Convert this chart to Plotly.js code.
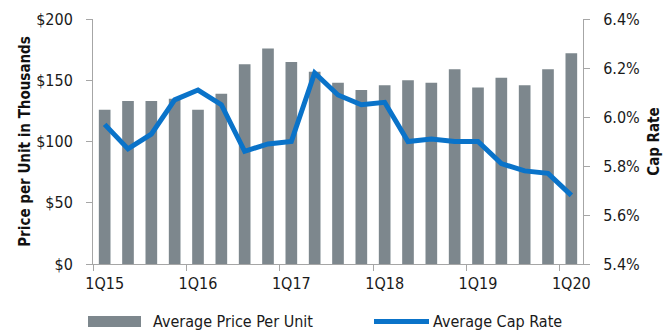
<!DOCTYPE html>
<html>
<head>
<meta charset="utf-8">
<script src="https://cdn.plot.ly/plotly-3.0.1.min.js"></script>
<style>html,body{margin:0;padding:0;background:#fff;}#chart{width:670px;height:331px;}</style>
</head>
<body>
<div id="chart"></div>
<script>
const quarters = ['1Q15','2Q15','3Q15','4Q15','1Q16','2Q16','3Q16','4Q16','1Q17','2Q17','3Q17','4Q17','1Q18','2Q18','3Q18','4Q18','1Q19','2Q19','3Q19','4Q19','1Q20'];
const pricePerUnit = [126, 133, 133, 135, 126, 139, 163, 176, 165, 157, 148, 142, 146, 150, 148, 159, 144, 152, 146, 159, 172];
const capRate = [5.97, 5.87, 5.93, 6.07, 6.11, 6.05, 5.86, 5.89, 5.90, 6.18, 6.09, 6.05, 6.06, 5.90, 5.91, 5.90, 5.90, 5.81, 5.78, 5.77, 5.68];
const tickQuarters = ['1Q15','1Q16','1Q17','1Q18','1Q19','1Q20'];
const tickLabels = ['1Q15','1Q16','1Q17','1Q18','1Q19','1Q20'];
const priceTicks = [0, 50, 100, 150, 200];
const priceTickLabels = ['$0', '$50', '$100', '$150', '$200'];
const rateTicks = [5.4, 5.6, 5.8, 6.0, 6.2, 6.4];
const rateTickLabels = ['5.4%', '5.6%', '5.8%', '6.0%', '6.2%', '6.4%'];
const legendNames = ['Average Price Per Unit', 'Average Cap Rate'];

const FONT = '"Liberation Sans Narrow", "Arial Narrow", "DejaVu Sans Condensed", sans-serif';
const BAR = '#7d878d';
const LINE = '#0a73c9';
const AXIS = '#a6a6a6';

const idx = quarters.map((q, i) => i);
const tickIdx = tickQuarters.map(q => quarters.indexOf(q));
const boundaryIdx = tickIdx.map(i => i - 0.5);

const traces = [
  {type: 'bar', x: idx, y: pricePerUnit, name: legendNames[0], marker: {color: BAR}, xaxis: 'x', yaxis: 'y', showlegend: false, hoverinfo: 'skip'},
  {type: 'scatter', mode: 'lines', x: idx, y: capRate, name: legendNames[1], line: {color: LINE, width: 5}, xaxis: 'x2', yaxis: 'y2', showlegend: false, hoverinfo: 'skip'}
];

const L = 93, R = 583, T = 19, B = 264;
const px2x = p => (p - L) / (R - L);
const px2y = p => (B - p) / (B - T);

const layout = {
  width: 670, height: 331,
  margin: {l: L, r: 670 - R, t: T, b: 331 - B},
  paper_bgcolor: '#fff', plot_bgcolor: '#fff',
  bargap: 0.5,
  font: {family: FONT, color: '#1a1a1a'},
  showlegend: false,
  xaxis: {
    range: [-0.5, quarters.length - 0.5], fixedrange: true,
    tickmode: 'array', tickvals: tickIdx, ticktext: tickLabels,
    ticks: '', showgrid: false, zeroline: false,
    showline: true, linecolor: AXIS, linewidth: 1,
    tickfont: {size: 16, family: FONT, color: '#1a1a1a'}, ticklabelstandoff: 5
  },
  xaxis2: {
    overlaying: 'x', anchor: 'y', side: 'bottom',
    range: [-0.5, quarters.length - 0.5],
    tickmode: 'array', tickvals: boundaryIdx, ticks: 'outside', ticklen: 6, tickcolor: AXIS,
    showticklabels: false, showgrid: false, zeroline: false, showline: false
  },
  yaxis: {
    range: [0, 200], tickmode: 'array', tickvals: priceTicks, ticktext: priceTickLabels,
    ticks: 'outside', ticklen: 6, tickcolor: AXIS,
    showgrid: false, zeroline: false, showline: true, linecolor: AXIS, linewidth: 1,
    tickfont: {size: 16, family: FONT, color: '#1a1a1a'}, ticklabelstandoff: 10,
    title: {text: 'Price per Unit in Thousands', font: {size: 15, family: FONT, weight: 'bold', color: '#111'}, standoff: 1}
  },
  yaxis2: {
    overlaying: 'y', side: 'right', anchor: 'x2',
    range: [5.4, 6.4], tickmode: 'array', tickvals: rateTicks, ticktext: rateTickLabels,
    ticks: 'outside', ticklen: 6, tickcolor: AXIS,
    showgrid: false, zeroline: false, showline: true, linecolor: AXIS, linewidth: 1,
    tickfont: {size: 16, family: FONT, color: '#1a1a1a'}, ticklabelstandoff: 10,
    title: {text: 'Cap Rate', font: {size: 15, family: FONT, weight: 'bold', color: '#111'}, standoff: 9}
  },
  shapes: [
    {type: 'rect', xref: 'paper', yref: 'paper', x0: px2x(88), x1: px2x(141), y0: px2y(327), y1: px2y(316), fillcolor: BAR, line: {width: 0}},
    {type: 'line', xref: 'paper', yref: 'paper', x0: px2x(374), x1: px2x(429), y0: px2y(321.5), y1: px2y(321.5), line: {color: LINE, width: 5}}
  ],
  annotations: [
    {xref: 'paper', yref: 'paper', x: px2x(151), y: px2y(321.5), xanchor: 'left', yanchor: 'middle', text: legendNames[0], showarrow: false, font: {size: 16, family: FONT, color: '#1a1a1a'}},
    {xref: 'paper', yref: 'paper', x: px2x(431), y: px2y(321.5), xanchor: 'left', yanchor: 'middle', text: legendNames[1], showarrow: false, font: {size: 16, family: FONT, color: '#1a1a1a'}}
  ]
};

Plotly.newPlot('chart', traces, layout, {displayModeBar: false, staticPlot: true});
</script>
</body>
</html>
